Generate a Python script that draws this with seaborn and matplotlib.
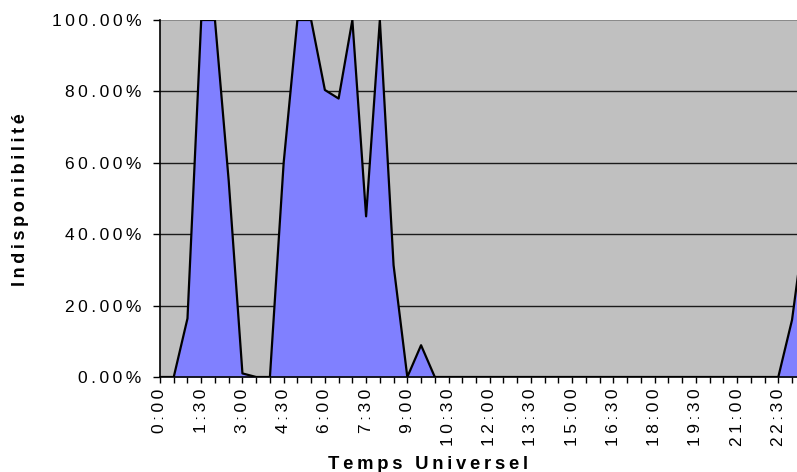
import matplotlib
matplotlib.use("Agg")
import matplotlib.pyplot as plt
import seaborn as sns
import numpy as np
import pandas as pd

# Half-hour slots over one day (UTC)
slots = [f"{h}:{m:02d}" for h in range(24) for m in (0, 30)]

# Unavailability per half-hour slot (fraction of the slot)
unavailability = [
    0.00, 0.00, 0.164, 1.00, 1.00, 0.55, 0.01, 0.00,
    0.00, 0.60, 1.00, 1.00, 0.804, 0.78, 1.00, 0.45,
    1.00, 0.313, 0.00, 0.089, 0.00, 0.00, 0.00, 0.00,
    0.00, 0.00, 0.00, 0.00, 0.00, 0.00, 0.00, 0.00,
    0.00, 0.00, 0.00, 0.00, 0.00, 0.00, 0.00, 0.00,
    0.00, 0.00, 0.00, 0.00, 0.00, 0.00, 0.16, 0.45,
]

y_ticks = [0.0, 0.2, 0.4, 0.6, 0.8, 1.0]
y_tick_labels = ["0.00%", "20.00%", "40.00%", "60.00%", "80.00%", "100.00%"]
x_label = "Temps Universel"
y_label = "Indisponibilité"

df = pd.DataFrame({"slot": np.arange(len(slots)), "value": unavailability})

sns.set_theme(style="white")
plt.rcParams["font.family"] = ["Liberation Sans", "DejaVu Sans"]


def spaced(text, sep="\u2009"):
    """Open up the letter spacing of a label."""
    return sep.join(text)


W, H = 797, 472
fig = plt.figure(figsize=(W / 100, H / 100), dpi=100)
fig.patch.set_facecolor("white")

step = 13.74
n = len(slots)
left, right = 160, 160 + (n - 1) * step
top, bottom = 20, 377
ax = fig.add_axes([left / W, (H - bottom) / H, (right - left) / W, (bottom - top) / H])
ax.set_facecolor("#C0C0C0")

ax.fill_between(df["slot"], 0, df["value"], color="#8080FF", linewidth=0, zorder=2)
sns.lineplot(data=df, x="slot", y="value", color="black", linewidth=1.6, ax=ax, zorder=3)

ax.set_xlim(0, n - 1)
ax.set_ylim(0, 1)

# horizontal gridlines
for yv in y_ticks[1:-1]:
    ax.axhline(yv, color="#1a1a1a", linewidth=1.0, zorder=1)
ax.axhline(1.0, color="#808080", linewidth=1.2, zorder=1)

ax.set_yticks(y_ticks)
ax.set_yticklabels([spaced(s) for s in y_tick_labels])
ax.set_xticks(np.arange(n), minor=True)
ax.set_xticks(np.arange(0, n, 3))
ax.set_xticklabels([spaced(slots[i]) for i in range(0, n, 3)], rotation=90)

ax.tick_params(axis="y", which="major", direction="out", length=5, width=1,
               color="black", pad=8.5, labelsize=12.5, labelcolor="black", left=True)
ax.tick_params(axis="x", which="both", direction="out", length=4, width=1,
               color="black", pad=4.5, labelsize=12.5, labelcolor="black", bottom=True)

for side in ("left", "bottom"):
    ax.spines[side].set_color("black")
    ax.spines[side].set_linewidth(1.2)
ax.spines["top"].set_visible(False)
ax.spines["right"].set_visible(False)

ax.set_xlabel(spaced(x_label), fontsize=13.3, fontweight="bold", color="black")
ax.set_ylabel(spaced(y_label), fontsize=13, fontweight="bold", color="black")
ax.xaxis.set_label_coords((428 - left) / (right - left), (bottom - 456) / (bottom - top))
ax.yaxis.set_label_coords((29 - left) / (right - left), (bottom - 200) / (bottom - top))

fig.savefig("out.png", dpi=100)
